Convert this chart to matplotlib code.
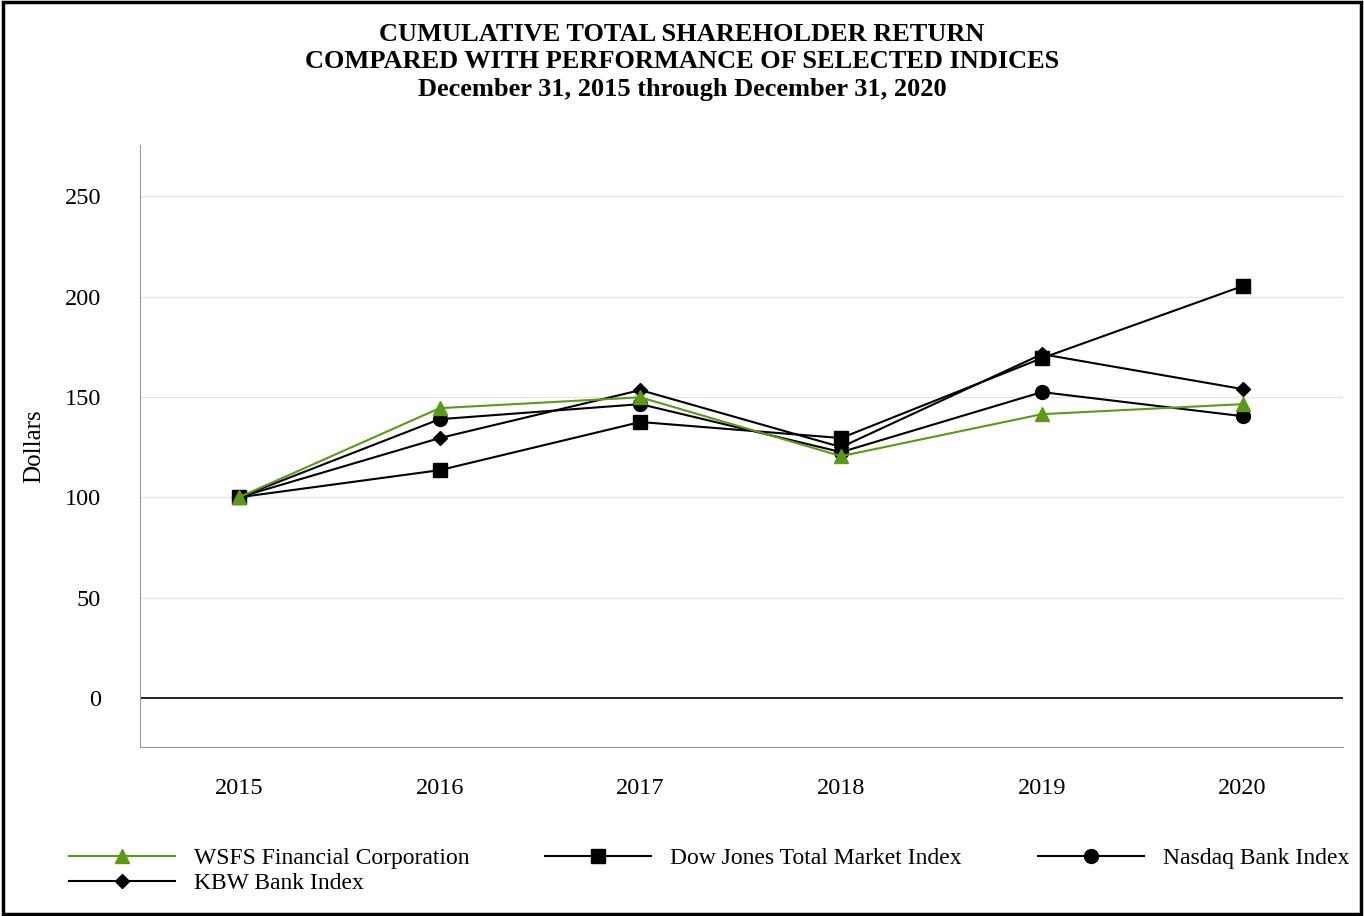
import matplotlib
matplotlib.use("Agg")
import matplotlib.pyplot as plt
from matplotlib.patches import Rectangle

plt.rcParams['font.family'] = ['Liberation Serif', 'DejaVu Serif']

years = [2015, 2016, 2017, 2018, 2019, 2020]
wsfs = [100, 144.4, 149.8, 120.5, 141.4, 146.4]
djtm = [100, 113.5, 137.5, 129.5, 169.3, 205.2]
nasdaq = [100, 138.9, 146.4, 122.5, 152.4, 140.4]
kbw = [100, 129.5, 153.4, 125.0, 171.3, 153.9]
yticks = [0, 50, 100, 150, 200, 250]

fig = plt.figure(figsize=(13.64, 9.16), dpi=100)
fig.patches.append(Rectangle((0.002, 0.002), 0.996, 0.996, transform=fig.transFigure,
                             fill=False, edgecolor='black', linewidth=2.5))
ax = fig.add_axes([0.1026, 0.1845, 0.882, 0.657])
ax.set_xlim(2015 - 0.493, 2020.5)
ax.set_ylim(-24.4, 275.4)
for t in yticks[1:]:
    ax.axhline(t, color='#e6e6e6', linewidth=1, zorder=0)
ax.axhline(0, color='black', linewidth=1.2, zorder=1)

h1, = ax.plot(years, wsfs, color='#5a9a14', marker='^', markersize=10, linewidth=1.5, label='WSFS Financial Corporation', zorder=5)
h2, = ax.plot(years, djtm, color='black', marker='s', markersize=10, linewidth=1.5, label='Dow Jones Total Market Index', zorder=4)
h3, = ax.plot(years, nasdaq, color='black', marker='o', markersize=10, linewidth=1.5, label='Nasdaq Bank Index', zorder=4)
h4, = ax.plot(years, kbw, color='black', marker='D', markersize=7, linewidth=1.5, label='KBW Bank Index', zorder=4)

ax.set_xticks(years)
ax.set_yticks(yticks)
ax.tick_params(axis='both', length=0, labelsize=17.5)
ax.tick_params(axis='y', pad=28)
ax.tick_params(axis='x', pad=22)
for s in ['top', 'right']:
    ax.spines[s].set_visible(False)
for s in ['left', 'bottom']:
    ax.spines[s].set_color('#999999')
ax.set_ylabel('Dollars', fontsize=18, labelpad=14)

fig.text(0.5, 0.975, 'CUMULATIVE TOTAL SHAREHOLDER RETURN\nCOMPARED WITH PERFORMANCE OF SELECTED INDICES\nDecember 31, 2015 through December 31, 2020',
         ha='center', va='top', fontsize=19, fontweight='bold', linespacing=1.25)

fig.legend([h1, h4, h2, h3], [h.get_label() for h in [h1, h4, h2, h3]],
           loc='upper left', bbox_to_anchor=(0.035, 0.098), ncol=3, frameon=False,
           fontsize=17, handlelength=4.5, columnspacing=3.2, labelspacing=0.15)
fig.savefig('out.png', dpi=100)
